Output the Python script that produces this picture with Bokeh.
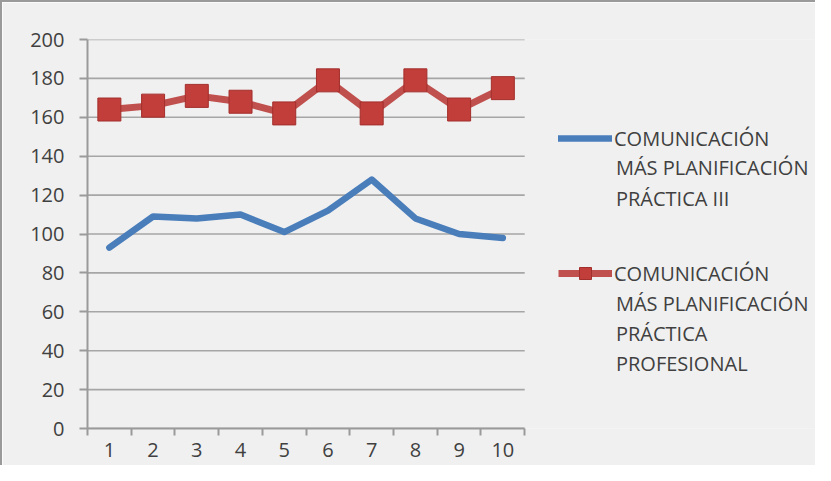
from bokeh.plotting import figure
from bokeh.models import FixedTicker, Legend, LegendItem, Range1d, Label
from bokeh.embed import file_html
from bokeh.resources import INLINE

x = [1, 2, 3, 4, 5, 6, 7, 8, 9, 10]
tick_labels = ["1", "2", "3", "4", "5", "6", "7", "8", "9", "10"]
y_ticks = [0, 20, 40, 60, 80, 100, 120, 140, 160, 180, 200]
practica_iii = [93, 109, 108, 110, 101, 112, 128, 108, 100, 98]
practica_prof = [164, 166, 171, 168, 162, 179, 162, 179, 164, 175]
name_iii = ["COMUNICACIÓN", "MÁS PLANIFICACIÓN", "PRÁCTICA III"]
name_prof = ["COMUNICACIÓN", "MÁS PLANIFICACIÓN", "PRÁCTICA", "PROFESIONAL"]

FONT = "Open Sans"
TXT = "#404040"
BG = "#f0f0f0"
AX = "#9a9a9a"

# plot area of the chart is 436 px wide; the frame also holds the legend to its right
PLOT_W = 436.0
FRAME_W = 728.0
x_lo, x_hi = 0.5, 10.5
x_end = x_lo + (x_hi - x_lo) * FRAME_W / PLOT_W

p = figure(width=815, height=465, output_backend="svg", toolbar_location=None,
           x_range=Range1d(x_lo, x_end), y_range=Range1d(0, 200),
           min_border_left=85, min_border_top=37, min_border_bottom=39, min_border_right=0)
p.background_fill_color = BG
p.border_fill_color = BG
p.outline_line_color = None
p.styles = {"border-left": "2px solid #9a9a9a", "border-top": "2px solid #9a9a9a"}

p.xaxis.ticker = FixedTicker(ticks=x, minor_ticks=[i + 0.5 for i in range(0, 11)])
p.xaxis.bounds = (x_lo, x_hi)
p.xaxis.major_label_overrides = {xi: lab for xi, lab in zip(x, tick_labels)}
p.xaxis.major_tick_out = 0
p.xaxis.major_tick_in = 0
p.xaxis.minor_tick_out = 7
p.xaxis.minor_tick_in = 0
p.xaxis.minor_tick_line_color = AX
p.xaxis.minor_tick_line_width = 2
p.xaxis.major_label_standoff = 7

p.yaxis.ticker = FixedTicker(ticks=y_ticks)
p.yaxis.major_tick_out = 8
p.yaxis.major_tick_in = 0
p.yaxis.minor_tick_out = 0
p.yaxis.major_tick_line_color = AX
p.yaxis.major_tick_line_width = 2
p.yaxis.major_label_standoff = 15

for ax in (p.xaxis, p.yaxis):
    ax.axis_line_color = AX
    ax.axis_line_width = 2
    ax.major_label_text_font = FONT
    ax.major_label_text_font_size = "20px"
    ax.major_label_text_color = TXT

p.xgrid.grid_line_color = None
p.ygrid.grid_line_color = None
# horizontal gridlines limited to the plot area
p.segment(x0=[x_lo] * len(y_ticks), x1=[x_hi] * len(y_ticks), y0=y_ticks, y1=y_ticks,
          line_color="#a6a6a6", line_width=1.6)

r1 = p.line(x, practica_iii, line_color="#4a7ebb", line_width=6.5, line_cap="round", line_join="round")
r2 = p.line(x, practica_prof, line_color="#c0504d", line_width=7, line_join="round")
r3 = p.scatter(x, practica_prof, marker="square", size=23, fill_color="#c13e3a", line_color="#a32f2c", line_width=1)

common = dict(orientation="vertical", background_fill_alpha=0, border_line_color=None,
              label_text_font=FONT, label_text_font_size="20px", label_text_color=TXT,
              glyph_width=54, glyph_height=30, spacing=0, padding=0, margin=0,
              label_standoff=2)

leg1 = Legend(items=[LegendItem(label=name_iii[0], renderers=[r1])], location=(471, 275), **common)
leg2 = Legend(items=[LegendItem(label=name_prof[0], renderers=[r2, r3])], location=(471, 140), **common)
p.add_layout(leg1, "center")
p.add_layout(leg2, "center")

# continuation lines of the legend entries
text_x = x_lo + (471 + 54 + 2) * (x_hi - x_lo) / PLOT_W
rows_iii = [134.0, 118.0]
rows_prof = [64.4, 49.0, 33.5]
for t, yy in zip(name_iii[1:], rows_iii):
    p.add_layout(Label(x=text_x, y=yy, text=t, text_font=FONT, text_font_size="20px",
                       text_color=TXT, text_baseline="middle", text_align="left"))
for t, yy in zip(name_prof[1:], rows_prof):
    p.add_layout(Label(x=text_x, y=yy, text=t, text_font=FONT, text_font_size="20px",
                       text_color=TXT, text_baseline="middle", text_align="left"))

open("out.html", "w").write(file_html(p, INLINE))
